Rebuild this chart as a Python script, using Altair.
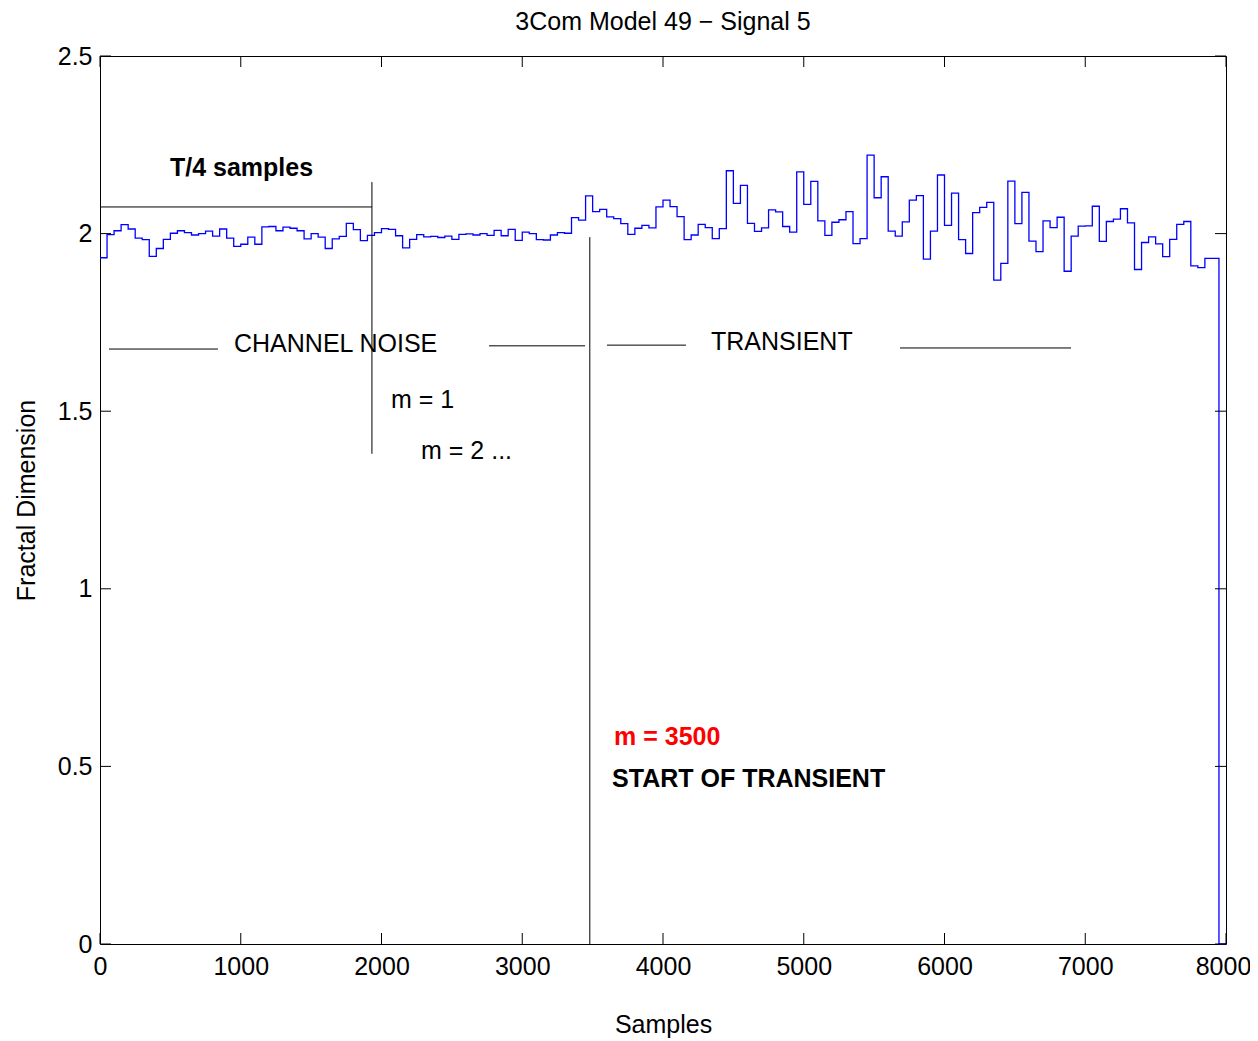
import altair as alt
import pandas as pd

# ---- data ----
title_text = "3Com Model 49 \u2212 Signal 5"
step = 50  # samples per window
fd_values = [
    1.932, 1.997, 2.008, 2.025, 2.013, 1.987, 1.983, 1.936, 1.958, 1.984,
    2.001, 2.008, 2.003, 1.996, 2.000, 2.007, 1.993, 2.013, 1.987, 1.964,
    1.970, 1.990, 1.970, 2.019, 2.020, 2.008, 2.018, 2.015, 2.008, 1.985,
    2.000, 1.990, 1.958, 1.985, 1.992, 2.029, 2.011, 1.980, 1.995, 2.003,
    2.014, 2.012, 1.994, 1.960, 1.984, 1.997, 1.991, 1.992, 1.989, 1.993,
    1.984, 1.998, 1.999, 1.996, 2.000, 1.995, 2.009, 1.994, 2.012, 1.981,
    2.004, 2.000, 1.983, 1.982, 1.996, 2.003, 2.001, 2.045, 2.038, 2.106,
    2.062, 2.068, 2.047, 2.042, 2.028, 1.998, 2.015, 2.023, 2.016, 2.075,
    2.094, 2.076, 2.048, 1.983, 1.996, 2.026, 2.017, 1.986, 2.014, 2.177,
    2.085, 2.136, 2.029, 2.006, 2.016, 2.067, 2.061, 2.020, 2.004, 2.174,
    2.082, 2.147, 2.036, 1.995, 2.032, 2.039, 2.062, 1.972, 1.986, 2.221,
    2.101, 2.160, 2.007, 1.993, 2.033, 2.094, 2.107, 1.928, 2.007, 2.165,
    2.023, 2.114, 1.983, 1.944, 2.059, 2.074, 2.088, 1.869, 1.916, 2.148,
    2.028, 2.116, 1.979, 1.949, 2.036, 2.017, 2.046, 1.894, 1.993, 2.021,
    2.022, 2.077, 1.978, 2.034, 2.041, 2.070, 2.030, 1.899, 1.975, 1.991,
    1.971, 1.935, 1.984, 2.026, 2.034, 1.909, 1.904, 1.930, 1.930, 0.0,
]
x_ticks = [0, 1000, 2000, 3000, 4000, 5000, 6000, 7000, 8000]
y_ticks = [0, 0.5, 1, 1.5, 2, 2.5]

# annotation line segments (data coordinates)
seg_x  = [0,     1932,  64,    2764,  3602,  5684,  3480]
seg_x2 = [1932,  1932,  838,   3446,  4163,  6899,  3480]
seg_y  = [2.075, 2.145, 1.675, 1.684, 1.686, 1.678, 1.99]
seg_y2 = [2.075, 1.38,  1.675, 1.684, 1.686, 1.678, 0.0]

# annotation texts
plain_labels = ["CHANNEL NOISE", "TRANSIENT", "m = 1", "m = 2 ..."]
plain_x = [952, 4341, 2067, 2281]
plain_y = [1.667, 1.671, 1.509, 1.365]
bold_labels = ["T/4 samples", "START OF TRANSIENT"]
bold_x = [497, 3638]
bold_y = [2.161, 0.441]
red_labels = ["m = 3500"]
red_x = [3652]
red_y = [0.559]

# ---- tables ----
n = len(fd_values)
samples = [i * step for i in range(n + 1)]
line_df = pd.DataFrame({"sample": samples, "fd": fd_values + [fd_values[-1]]})
seg_df = pd.DataFrame({"sample": seg_x, "sample_end": seg_x2, "fd": seg_y, "fd_end": seg_y2})
xt_df = pd.DataFrame({"sample": x_ticks})
yt_df = pd.DataFrame({"fd": y_ticks})
plain_df = pd.DataFrame({"sample": plain_x, "fd": plain_y, "label": plain_labels})
bold_df = pd.DataFrame({"sample": bold_x, "fd": bold_y, "label": bold_labels})
red_df = pd.DataFrame({"sample": red_x, "fd": red_y, "label": red_labels})
title_df = pd.DataFrame({"label": [title_text]})

W, H = 1126, 888
FONT = "Liberation Sans"
FS = 25
TL = 11  # inward tick length

xscale = alt.Scale(domain=[0, 8000], nice=False, zero=False)
yscale = alt.Scale(domain=[0, 2.5], nice=False, zero=False)
xaxis = alt.Axis(values=x_ticks, format="d", title="Samples", labelPadding=10,
                 titlePadding=33, ticks=False, domain=False, grid=False, labelFlush=False,
                 labelOffset={"condition": {"test": "datum.value == 8000", "value": -3},
                              "value": 0})
yaxis = alt.Axis(values=y_ticks, format="~g", title="Fractal Dimension", labelPadding=8,
                 titlePadding=18, ticks=False, domain=False, grid=False, labelFlush=False)

def X(field="sample"):
    return alt.X(field, type="quantitative", scale=xscale, axis=xaxis)

def Y(field="fd"):
    return alt.Y(field, type="quantitative", scale=yscale, axis=yaxis)

line = alt.Chart(line_df).mark_line(interpolate="step-after", color="#0000ff",
                                    strokeWidth=1.3).encode(x=X(), y=Y())

segs = alt.Chart(seg_df).mark_rule(color="black", strokeWidth=1).encode(
    x=X(), x2="sample_end:Q", y=Y(), y2="fd_end:Q")

xt_bottom = alt.Chart(xt_df).mark_rule(color="black").encode(
    x=X(), y=alt.value(H), y2=alt.value(H - TL))
xt_top = alt.Chart(xt_df).mark_rule(color="black").encode(
    x=X(), y=alt.value(0), y2=alt.value(TL))
yt_left = alt.Chart(yt_df).mark_rule(color="black").encode(
    y=Y(), x=alt.value(0), x2=alt.value(TL))
yt_right = alt.Chart(yt_df).mark_rule(color="black").encode(
    y=Y(), x=alt.value(W), x2=alt.value(W - TL))

txt_plain = alt.Chart(plain_df).mark_text(align="left", baseline="alphabetic", font=FONT,
                                          fontSize=FS, color="black").encode(
    x=X(), y=Y(), text="label:N")
txt_bold = alt.Chart(bold_df).mark_text(align="left", baseline="alphabetic", font=FONT,
                                        fontSize=FS, fontWeight="bold", color="black").encode(
    x=X(), y=Y(), text="label:N")
txt_red = alt.Chart(red_df).mark_text(align="left", baseline="alphabetic", font=FONT,
                                      fontSize=FS, fontWeight="bold", color="#ff0000").encode(
    x=X(), y=Y(), text="label:N")
txt_title = alt.Chart(title_df).mark_text(align="center", baseline="alphabetic", font=FONT,
                                          fontSize=FS, color="black").encode(
    x=alt.value(W / 2), y=alt.value(-26), text="label:N")

chart = alt.layer(
    line, segs, xt_bottom, xt_top, yt_left, yt_right, txt_plain, txt_bold, txt_red, txt_title
).properties(
    width=W, height=H,
    autosize=alt.AutoSizeParams(type="none"),
    padding={"left": 92, "top": 48, "right": 24, "bottom": 95},
    background="white",
).configure_view(
    stroke="black", strokeWidth=1
).configure_axis(
    labelFont=FONT, labelFontSize=FS, labelColor="black",
    titleFont=FONT, titleFontSize=FS, titleFontWeight="normal", titleColor="black",
)

chart.save("out.html", embed_options={"renderer": "svg", "actions": False})
